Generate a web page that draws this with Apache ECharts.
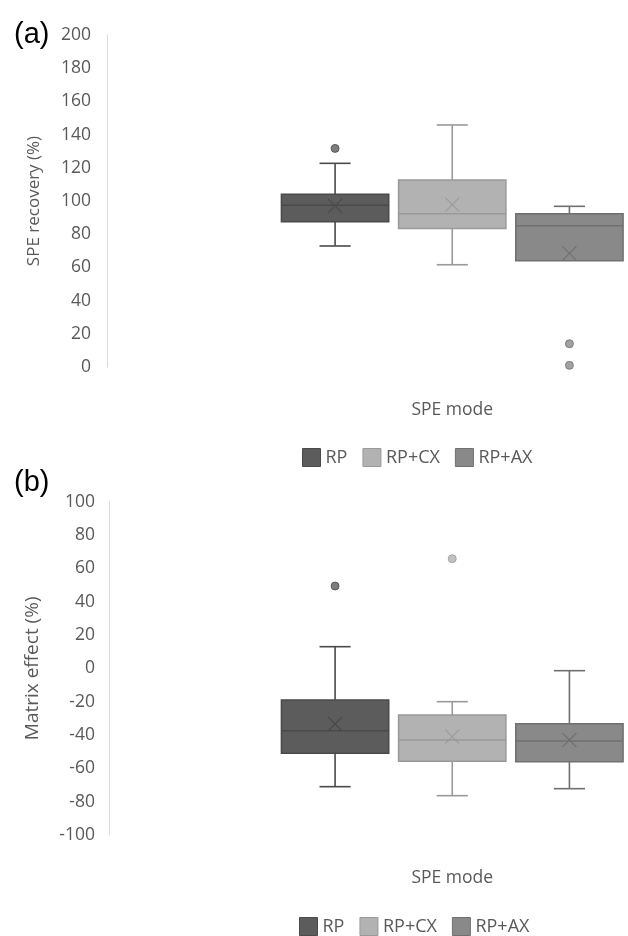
<!DOCTYPE html>
<html>
<head>
<meta charset="utf-8">
<script src="https://cdn.jsdelivr.net/npm/echarts@6/dist/echarts.min.js"></script>
<style>
  html, body { margin: 0; padding: 0; background: #fff; overflow: hidden; }
  #chart { width: 628px; height: 936px; }
</style>
</head>
<body>
<div id="chart"></div>
<script>
var groups = ['RP', 'RP+CX', 'RP+AX'];

// (a) SPE recovery (%) : min, Q1, median, Q3, max
var recoveryBox = [
  [72.9, 87.5, 97.4, 104.0, 122.7],
  [61.6, 83.5, 92.3, 112.7, 145.8],
  [64.0, 64.0, 85.1, 92.3, 96.8]
];
var recoveryMean = [97.0, 97.8, 68.5];
var recoveryOutliers = [[131.7], [], [14.0, 1.0]];

// (b) Matrix effect (%)
var matrixBox = [
  [-71.0, -51.0, -37.4, -19.0, 13.0],
  [-76.4, -55.8, -43.0, -28.0, -20.0],
  [-72.2, -56.0, -43.6, -33.2, -1.4]
];
var matrixMean = [-33.4, -41.0, -43.0];
var matrixOutliers = [[49.4], [65.8], []];

var fillColors = ['#5c5c5c', '#b2b2b2', '#898989'];
var lineColors = ['#4a4a4a', '#999999', '#707070'];
var FONT = '"Open Sans", "Noto Sans", sans-serif';

// box + whiskers + mean cross, all placed through the axes
function renderBox(params, api) {
  var gi = api.value(0);
  var stroke = lineColors[gi];
  var half = api.size([1, 0])[0] * 0.458;
  var cap = half * 0.29;
  var pMin = api.coord([gi, api.value(1)]);
  var pQ1 = api.coord([gi, api.value(2)]);
  var pMed = api.coord([gi, api.value(3)]);
  var pQ3 = api.coord([gi, api.value(4)]);
  var pMax = api.coord([gi, api.value(5)]);
  var pMean = api.coord([gi, api.value(6)]);
  var x = pMed[0];
  var lw = { stroke: stroke, lineWidth: 1.6 };
  var xs = 7;
  var children = [];
  if (api.value(5) > api.value(4)) {
    children.push({ type: 'line', shape: { x1: x, y1: pQ3[1], x2: x, y2: pMax[1] }, style: lw });
    children.push({ type: 'line', shape: { x1: x - cap, y1: pMax[1], x2: x + cap, y2: pMax[1] }, style: lw });
  }
  if (api.value(1) < api.value(2)) {
    children.push({ type: 'line', shape: { x1: x, y1: pQ1[1], x2: x, y2: pMin[1] }, style: lw });
    children.push({ type: 'line', shape: { x1: x - cap, y1: pMin[1], x2: x + cap, y2: pMin[1] }, style: lw });
  }
  children.push(
    {
      type: 'rect',
      shape: { x: x - half, y: pQ3[1], width: half * 2, height: pQ1[1] - pQ3[1] },
      style: { fill: fillColors[gi], stroke: stroke, lineWidth: 1.5 }
    },
    { type: 'line', shape: { x1: x - half, y1: pMed[1], x2: x + half, y2: pMed[1] }, style: { stroke: stroke, lineWidth: 1.5 } },
    { type: 'line', shape: { x1: x - xs, y1: pMean[1] - xs, x2: x + xs, y2: pMean[1] + xs }, style: { stroke: stroke, lineWidth: 1.1 } },
    { type: 'line', shape: { x1: x - xs, y1: pMean[1] + xs, x2: x + xs, y2: pMean[1] - xs }, style: { stroke: stroke, lineWidth: 1.1 } }
  );
  return { type: 'group', children: children };
}

function panelSeries(idx, box, mean, outliers) {
  var list = [];
  groups.forEach(function (name, gi) {
    list.push({
      name: name,
      type: 'custom',
      xAxisIndex: idx,
      yAxisIndex: idx,
      renderItem: renderBox,
      itemStyle: { color: fillColors[gi], borderColor: lineColors[gi] },
      data: [[gi].concat(box[gi], [mean[gi]])],
      z: 2
    });
    list.push({
      name: name,
      type: 'scatter',
      xAxisIndex: idx,
      yAxisIndex: idx,
      symbol: 'circle',
      symbolSize: 8,
      itemStyle: { color: fillColors[gi], borderColor: lineColors[gi], borderWidth: 1 },
      data: outliers[gi].map(function (v) { return [gi, v]; }),
      z: 3
    });
  });
  return list;
}

function legendFor(top, left) {
  return {
    top: top,
    left: left,
    padding: 0,
    icon: 'rect',
    itemWidth: 18,
    itemHeight: 18,
    itemGap: 15,
    textStyle: { color: '#595959', fontSize: 18, fontFamily: FONT },
    data: groups.map(function (name, gi) {
      return { name: name, itemStyle: { color: fillColors[gi], borderColor: lineColors[gi], borderWidth: 1 } };
    })
  };
}

function yAxisFor(idx, min, max, offset, name, nameSize, gap, margin) {
  return {
    type: 'value',
    gridIndex: idx,
    min: min,
    max: max,
    interval: 20,
    offset: offset,
    name: name,
    nameLocation: 'middle',
    nameGap: gap,
    nameTextStyle: { color: '#595959', fontSize: nameSize, fontFamily: FONT },
    axisLine: { show: true, lineStyle: { color: '#d9d9d9', width: 1 } },
    axisTick: { show: false },
    axisLabel: { color: '#595959', fontSize: 17.5, fontFamily: FONT, margin: margin },
    splitLine: { show: false }
  };
}

function xAxisFor(idx) {
  return {
    type: 'category',
    gridIndex: idx,
    data: groups,
    name: 'SPE mode',
    nameLocation: 'middle',
    nameGap: 34,
    nameTextStyle: { color: '#595959', fontSize: 17.5, fontFamily: FONT },
    axisLine: { show: false },
    axisTick: { show: false },
    axisLabel: { show: false },
    splitLine: { show: false }
  };
}

var chart = echarts.init(document.getElementById('chart'));
chart.setOption({
  backgroundColor: '#fff',
  animation: false,
  title: [
    { text: '(a)', left: 9, top: 15, textStyle: { color: '#000', fontSize: 29, fontWeight: 'normal', fontFamily: 'Liberation Sans, Arial, sans-serif' } },
    { text: '(b)', left: 9, top: 463, textStyle: { color: '#000', fontSize: 29, fontWeight: 'normal', fontFamily: 'Liberation Sans, Arial, sans-serif' } }
  ],
  legend: [legendFor(448, 302), legendFor(917, 299)],
  grid: [
    { left: 276.5, width: 357, top: 35, height: 332 },
    { left: 276.5, width: 357, top: 501.7, height: 333.3 }
  ],
  xAxis: [xAxisFor(0), xAxisFor(1)],
  yAxis: [
    yAxisFor(0, 0, 200, 169.5, 'SPE recovery (%)', 17, 64, 16),
    yAxisFor(1, -100, 100, 167.5, 'Matrix effect (%)', 19, 67, 14)
  ],
  series: panelSeries(0, recoveryBox, recoveryMean, recoveryOutliers)
    .concat(panelSeries(1, matrixBox, matrixMean, matrixOutliers))
});
</script>
</body>
</html>
